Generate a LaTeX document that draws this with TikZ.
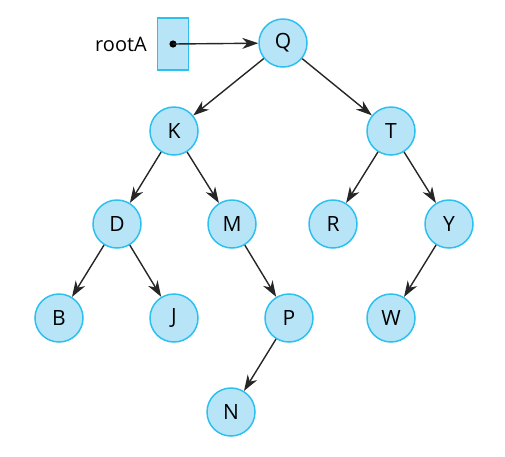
\documentclass[tikz,border=0pt]{standalone}
\usepackage{fontspec}
\setmainfont{Open Sans}
\usetikzlibrary{arrows.meta}
\definecolor{nodefill}{HTML}{B8E4F8}
\definecolor{nodeline}{HTML}{2CC0EE}

\begin{document}
\begin{tikzpicture}[x=1pt, y=1pt,
    vertex/.style={circle, draw=nodeline, fill=nodefill, line width=1.5pt,
                   minimum size=48pt, inner sep=0pt, font=\fontsize{21}{25}\selectfont},
    ptr/.style={-{Stealth[length=16pt, width=11pt, inset=5pt]}, line width=1.4pt, black!85}]
    \useasboundingbox (0, 0) rectangle (505, -456);
    \node[draw=nodeline, fill=nodefill, line width=1.5pt, minimum width=31pt,
          minimum height=52pt, inner sep=0pt] (box) at (173, -44) {};
    \node[font=\fontsize{20}{24}\selectfont] (lbl) at (121, -44) {rootA};
    \fill[black] (173, -44) circle (3.6pt);
    \coordinate (dot) at (173, -44);
    \node[vertex] (q) at (283, -43) {Q};
    \node[vertex] (k) at (174, -131) {K};
    \node[vertex] (t) at (391, -131) {T};
    \node[vertex] (d) at (117, -224) {D};
    \node[vertex] (m) at (232, -224) {M};
    \node[vertex] (r) at (333, -224) {R};
    \node[vertex] (y) at (449, -224) {Y};
    \node[vertex] (b) at (59, -318) {B};
    \node[vertex] (j) at (174, -318) {J};
    \node[vertex] (p) at (289, -318) {P};
    \node[vertex] (w) at (391, -318) {W};
    \node[vertex] (n) at (231, -412) {N};
    \draw[ptr] (dot) -- (q);
    \draw[ptr] (q) -- (k);
    \draw[ptr] (q) -- (t);
    \draw[ptr] (k) -- (d);
    \draw[ptr] (k) -- (m);
    \draw[ptr] (t) -- (r);
    \draw[ptr] (t) -- (y);
    \draw[ptr] (d) -- (b);
    \draw[ptr] (d) -- (j);
    \draw[ptr] (m) -- (p);
    \draw[ptr] (y) -- (w);
    \draw[ptr] (p) -- (n);
\end{tikzpicture}
\end{document}
